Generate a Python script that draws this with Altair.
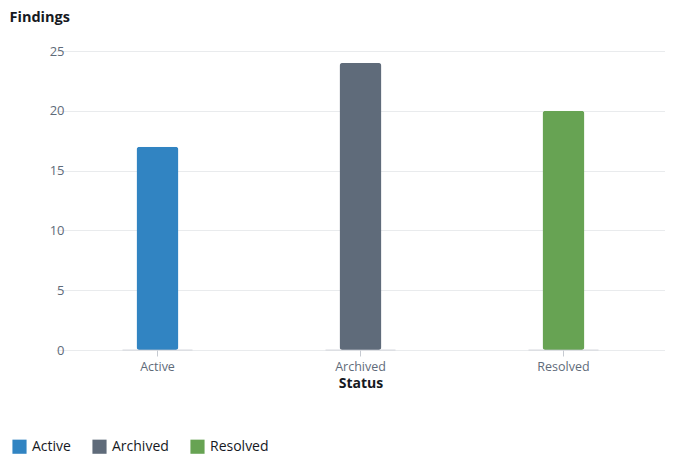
import altair as alt
import pandas as pd

statuses = ["Active", "Archived", "Resolved"]
findings = [17, 24, 20]
colors = ["#3184c2", "#5f6b7a", "#67a353"]

df = pd.DataFrame({"Status": statuses, "Findings": findings, "Zero": [0, 0, 0]})

FONT = "Open Sans"

x_enc = alt.X(
    "Status:N",
    sort=statuses,
    scale=alt.Scale(range=[-14, 595], paddingInner=0, paddingOuter=0),
    axis=alt.Axis(
        title="Status",
        titleFontSize=14,
        titleFontWeight="bold",
        titleColor="#16191f",
        titlePadding=4,
        labelAngle=0,
        labelFontSize=12.5,
        labelColor="#5f6b7a",
        labelPadding=4,
        tickColor="#c6cad1",
        tickSize=6,
        domain=False,
        grid=False,
    ),
)

y_scale = alt.Scale(domain=[0, 25], padding=0, nice=False, zero=True)

bars = alt.Chart(df).mark_bar(size=42, cornerRadius=3).encode(
    x=x_enc,
    y=alt.Y(
        "Findings:Q",
        scale=y_scale,
        axis=alt.Axis(
            values=[0, 5, 10, 15, 20, 25],
            title="Findings",
            titleAngle=0,
            titleAlign="left",
            titleBaseline="middle",
            titleX=-61,
            titleY=-34,
            titleFontSize=14.5,
            titleFontWeight="bold",
            titleColor="#16191f",
            labelFontSize=13,
            labelColor="#5f6b7a",
            labelPadding=6,
            ticks=False,
            domain=False,
            gridColor="#e9ebed",
        ),
    ),
    color=alt.Color(
        "Status:N",
        sort=statuses,
        scale=alt.Scale(domain=statuses, range=colors),
        legend=alt.Legend(
            title=None,
            orient="none",
            legendX=-58,
            legendY=388,
            direction="horizontal",
            symbolType="square",
            symbolSize=200,
            symbolStrokeWidth=0,
            labelFontSize=14,
            labelColor="#16191f",
            labelOffset=5,
            columnPadding=21,
        ),
    ),
)

base_ticks = alt.Chart(df).mark_tick(
    orient="horizontal", size=70, thickness=1, color="#c6cad1"
).encode(
    x=alt.X("Status:N", sort=statuses),
    y=alt.Y("Zero:Q", scale=y_scale),
)

chart = (
    alt.layer(bars, base_ticks)
    .properties(
        width=595,
        height=299,
        padding={"left": 62, "top": 43, "right": 0, "bottom": 104},
        autosize=alt.AutoSizeParams(type="none"),
    )
    .configure(font=FONT)
    .configure_view(stroke=None)
)

chart.save("out.html", embed_options={"renderer": "svg", "actions": False})
